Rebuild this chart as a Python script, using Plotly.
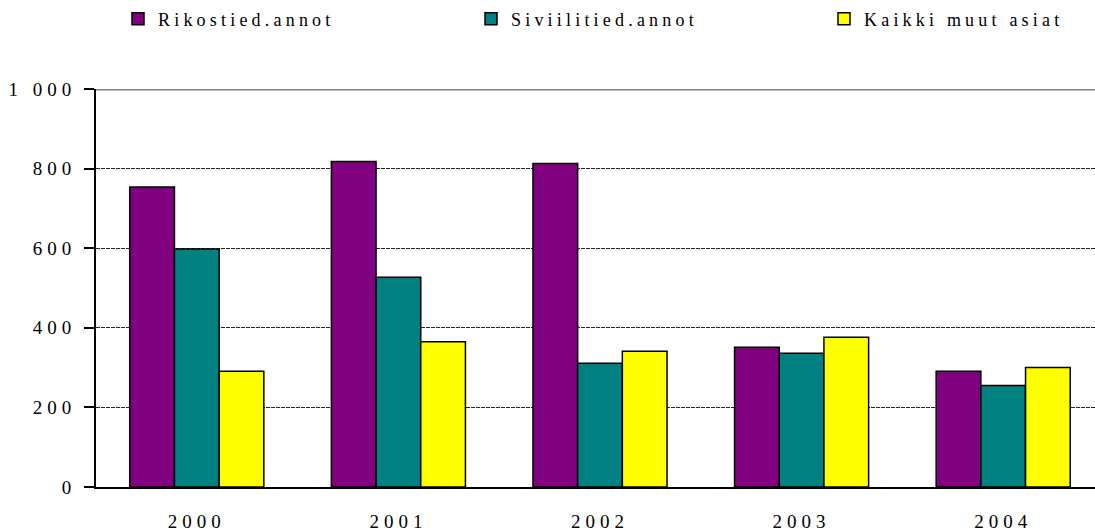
import plotly.graph_objects as go

categories = ["2000", "2001", "2002", "2003", "2004"]
rikos = [754, 818, 813, 351, 291]
siviili = [598, 527, 311, 336, 255]
muut = [291, 365, 341, 376, 300]
series_names = ["Rikostied.annot", "Siviilitied.annot", "Kaikki muut asiat"]
y_ticks = [0, 200, 400, 600, 800, 1000]
y_ticktext = ["0", "200", "400", "600", "800", "1 000"]

W, H = 1095, 532
ML, MR, MT, MB = 96, 0, 89, 45
plot_w = W - ML - MR
plot_h = H - MT - MB

colors = ["#800080", "#008080", "#FFFF00"]
FONT = "Liberation Serif, Times New Roman, serif"

def px_to_paper_x(px):
    return (px - ML) / plot_w

def px_to_paper_y(py):
    return (H - MB - py) / plot_h

fig = go.Figure()
for vals, name, col in zip([rikos, siviili, muut], series_names, colors):
    fig.add_trace(go.Bar(
        x=categories, y=vals, name=name,
        marker=dict(color=col, line=dict(color="black", width=1.5)),
    ))

fig.update_layout(
    template="none",
    width=W, height=H,
    margin=dict(l=ML, r=MR, t=MT, b=MB, autoexpand=False),
    paper_bgcolor="white", plot_bgcolor="white",
    barmode="group", bargap=0.335, bargroupgap=0,
    showlegend=True,
    legend=dict(
        x=px_to_paper_x(90), y=px_to_paper_y(19),
        orientation="h", yanchor="middle", xanchor="left",
        title=dict(text="\u00a0" * 4, side="left", font=dict(family=FONT, size=18, color="white")),
        entrywidth=308, entrywidthmode="pixels",
        font=dict(family=FONT, size=18, color="black"),
        bgcolor="rgba(0,0,0,0)", borderwidth=0,
    ),
    font=dict(family=FONT, size=18, color="black"),
)

fig.update_xaxes(
    type="category", range=[-0.5, -0.5 + plot_w / 201.6],
    showline=True, linecolor="black", linewidth=2,
    ticks="", showgrid=False, zeroline=False, automargin=False,
    ticklabelstandoff=16,
    tickfont=dict(family=FONT, size=19, color="black"),
)
fig.update_yaxes(
    range=[0, 1000], tickvals=y_ticks, ticktext=y_ticktext,
    showline=True, linecolor="black", linewidth=2,
    ticks="outside", ticklen=10, tickwidth=2, tickcolor="black",
    showgrid=True, gridcolor="#222222", gridwidth=1, griddash="4px,1px",
    zeroline=False, automargin=False, ticklabelstandoff=4,
    tickfont=dict(family=FONT, size=19, color="black"),
)

# grey top border line at the top of the value axis
fig.add_shape(type="line", xref="paper", yref="y", x0=0, x1=1, y0=y_ticks[-1], y1=y_ticks[-1],
              line=dict(color="#808080", width=3), layer="above")

post = """
document.body.style.margin='0';
var st = document.createElement('style');
st.textContent = '.legendtext{letter-spacing:4.2px !important;} .xtick text, .ytick text{letter-spacing:5px !important;}';
document.head.appendChild(st);
function unclip(){
  document.querySelectorAll('[clip-path*="legend"]').forEach(function(e){ e.removeAttribute('clip-path'); });
  document.querySelectorAll('g.legend, g.legend .scrollbox').forEach(function(e){ e.removeAttribute('clip-path'); });
}
unclip();
setTimeout(unclip, 50);
setTimeout(unclip, 300);
"""
fig.write_html("out.html", post_script=post, config={"displayModeBar": False})
